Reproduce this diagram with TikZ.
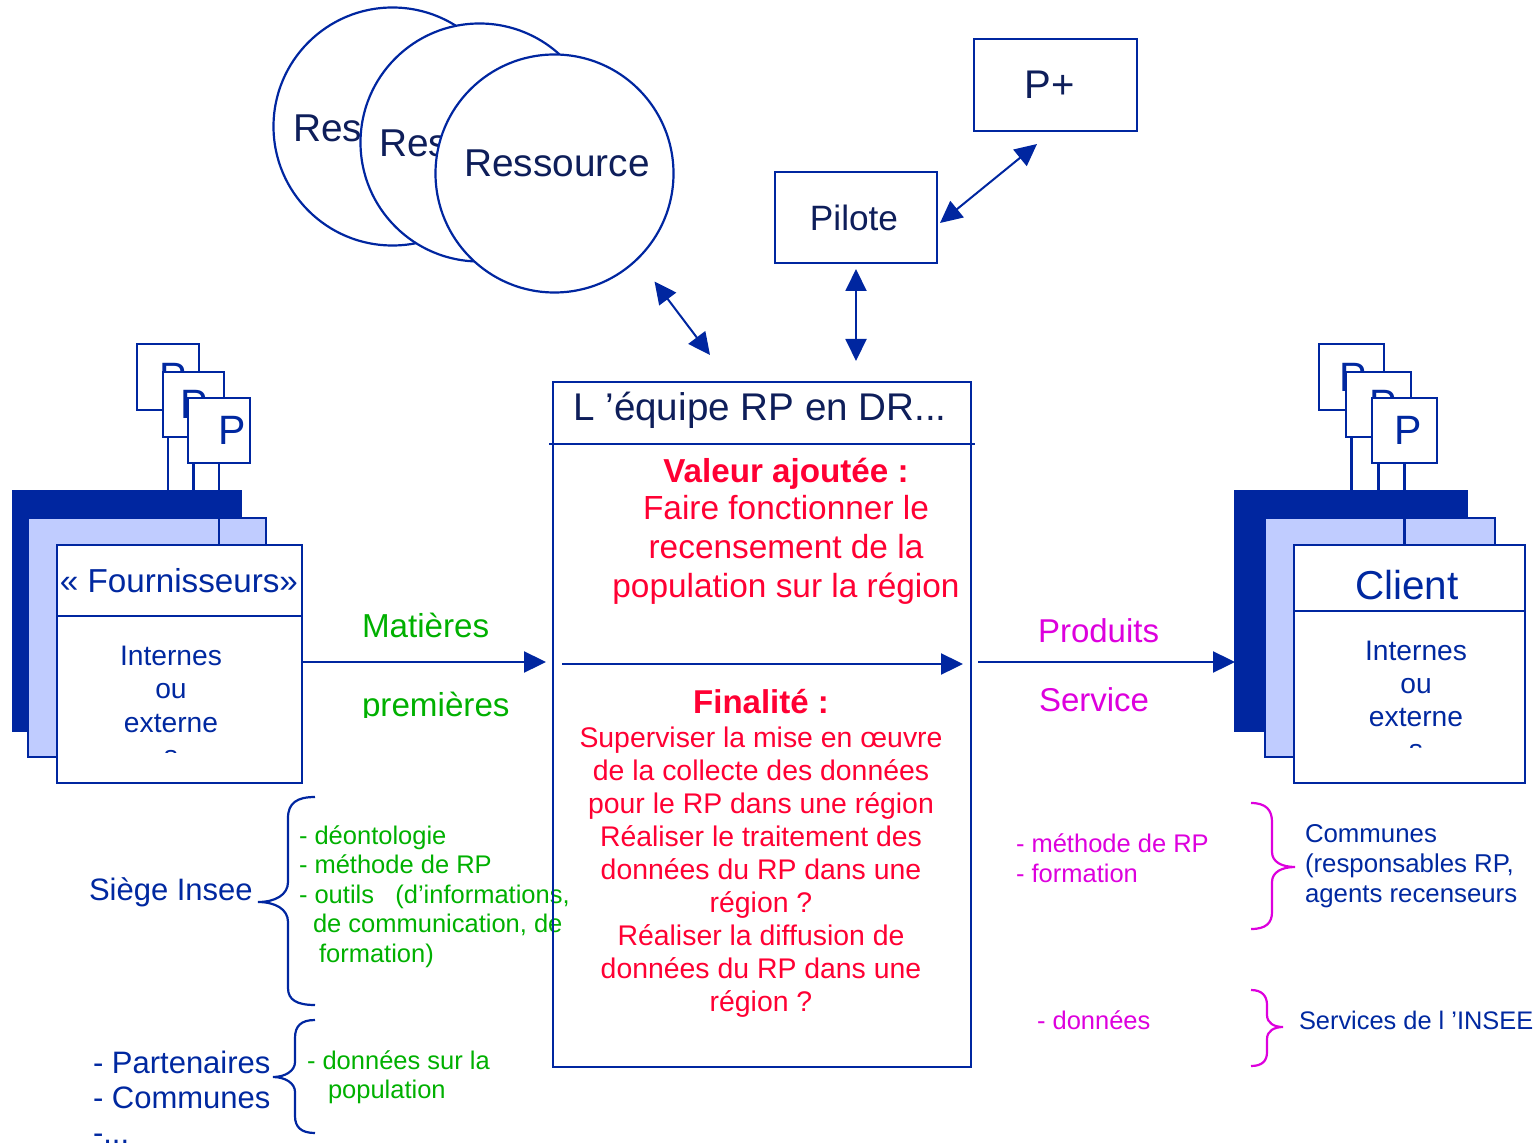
\documentclass[tikz,border=0pt]{standalone}
\usepackage{fontspec}
\setmainfont{Liberation Sans}
\usetikzlibrary{arrows.meta}

\definecolor{lineblue}{RGB}{0,38,160}
\definecolor{lightfill}{RGB}{192,204,255}
\definecolor{navy}{RGB}{14,30,90}
\definecolor{txtblue}{RGB}{0,40,160}
\definecolor{rouge}{RGB}{255,0,51}
\definecolor{vert}{RGB}{0,176,0}
\definecolor{mauve}{RGB}{221,0,221}

\newcommand\fsz[2]{\fontsize{#1}{#2}\selectfont}

\begin{document}
% multi-line labels are placed by the baseline of their last line
\begin{tikzpicture}[x=0.5pt,y=-0.5pt,
  panel/.style={draw=lineblue, line width=1.15pt, inner sep=0pt, outer sep=0pt, anchor=north west, fill=white},
  ress/.style={circle, draw=lineblue, line width=1.1pt, fill=white, minimum size=119pt, inner sep=0pt, outer sep=0pt},
  lbl/.style={inner sep=0pt, outer sep=0pt},
  ptag/.style={draw=lineblue, line width=1.15pt, fill=white, inner sep=0pt, outer sep=0pt, minimum width=31pt, minimum height=33pt},
  pletter/.style={lbl, text=txtblue, font=\fsz{20.5}{24}},
  tip/.tip={Triangle[length=11pt,width=10.5pt]},
  biarrow/.style={draw=lineblue, line width=1pt, tip-tip},
  arr/.style={draw=lineblue, line width=1.15pt, -tip},
  rule/.style={draw=lineblue, line width=1.15pt},
  brace/.style={line width=1.1pt},
]
\useasboundingbox (0,0) rectangle (1540,1144);

% --- stacked resources
\node[ress] (r1) at (392.5,126.5) {};
\node[lbl, anchor=base, text=navy, font=\fsz{19.4}{23}] (r1t) at (386,142) {Ressource};
\node[ress] (r2) at (479.5,142.5) {};
\node[lbl, anchor=base, text=navy, font=\fsz{19.4}{23}] (r2t) at (472,157) {Ressource};
\node[ress] (r3) at (554.5,173.5) {};
\node[lbl, anchor=base, text=navy, font=\fsz{19.4}{23}] (r3t) at (557,177) {Ressource};

% --- steering boxes
\node[panel, minimum width=81pt, minimum height=45.5pt, text=navy, font=\fsz{17.6}{21}] (pilote) at (775,172) {\hspace*{-2pt}Pilote};
\node[panel, minimum width=81.5pt, minimum height=46pt, text=navy, font=\fsz{20}{24}] (pplus) at (974,39) {\hspace*{-6pt}P+};

% --- green inputs (drawn under the central frame)
\node[lbl, anchor=base west, align=left, text=vert, font=\fsz{12.75}{14.75}] (siegelist) at (299,962)
  {- déontologie\\- méthode de RP\\- outils\ \ \ (d’informations,\\\hspace*{7pt}de communication, de\\\hspace*{10pt}formation)};
\node[lbl, anchor=base west, align=left, text=vert, font=\fsz{12.75}{14.5}] (partlist) at (307,1098)
  {- données sur la\\\hspace*{10.5pt}population};

% --- central frame
\node[panel, fill=none, minimum width=209pt, minimum height=342.5pt] (team) at (553,382) {};
\draw[rule] ([shift={(-4,62)}]team.north west) -- ([shift={(4,62)}]team.north east);
\node[lbl, anchor=base, text=navy, font=\fsz{19.3}{22}] (teamtitle) at (760,420) {L ’équipe RP en DR...};
\node[lbl, anchor=base, text=rouge, font=\bfseries\fsz{16.6}{19.5}] (valtitle) at (786,482) {Valeur ajoutée :};
\node[lbl, anchor=base, align=center, text=rouge, font=\fsz{16.7}{19.5}] (valtext) at (786,597)
  {Faire fonctionner le\\recensement de la\\population sur la région};
\node[lbl, anchor=base, text=rouge, font=\bfseries\fsz{16.5}{19.5}] (fintitle) at (761,713) {Finalité :};
\node[lbl, anchor=base, align=center, text=rouge, font=\fsz{14.2}{16.5}] (fintext) at (761,1011)
  {Superviser la mise en œuvre\\de la collecte des données\\pour le RP dans une région\\Réaliser le traitement des\\données du RP dans une\\région ?\\Réaliser la diffusion de\\données du RP dans une\\région ?};

% --- supplier stack
\node[panel, fill=lineblue, minimum width=114pt, minimum height=120pt] (ldark) at (13,491) {};
\node[panel, fill=lightfill, minimum width=119pt, minimum height=119.5pt] (llight) at (28,518) {};
\node[panel, minimum width=122.5pt, minimum height=119pt] (lfront) at (57,545) {};
\draw[rule] ([shift={(0,71)}]lfront.north west) -- ([shift={(0,71)}]lfront.north east);
\node[lbl, anchor=base, text=txtblue, font=\fsz{16.6}{20}] (fourn) at (179,592) {« Fournisseurs»};
\node[lbl, anchor=base, align=center, text=txtblue, font=\fsz{14.1}{16.7}] (lint) at (171,732) {Internes\\ou\\externe};
\begin{scope}
  \clip (60,740) rectangle (300,752);
  \node[lbl, anchor=base, text=txtblue, font=\fsz{14.1}{16.7}] (lints) at (171,765) {s};
\end{scope}
\coordinate (lp1c) at (168,377);
\coordinate (lp2c) at (193.5,404.5);
\coordinate (lp3c) at (219,430.5);
\draw[rule] (lp1c) -- (lp1c |- ldark.north);
\draw[rule] (lp2c) -- (lp2c |- llight.north);
\draw[rule] (lp3c) -- (lp3c |- lfront.north);
\node[ptag] (lp1) at (lp1c) {};
\node[pletter] (lp1t) at ([shift={(5.5,0)}]lp1.center) {P};
\node[ptag, minimum width=30.5pt, minimum height=32.5pt] (lp2) at (lp2c) {};
\node[pletter] (lp2t) at ([shift={(0.5,0)}]lp2.center) {P};
\node[ptag, minimum height=32.5pt] (lp3) at (lp3c) {};
\node[pletter] (lp3t) at ([shift={(13,0)}]lp3.center) {P};

% --- client stack
\node[panel, fill=lineblue, minimum width=116pt, minimum height=120pt] (rdark) at (1235,491) {};
\node[panel, fill=lightfill, minimum width=115pt, minimum height=119.5pt] (rlight) at (1265,518) {};
\node[panel, minimum width=115.5pt, minimum height=119pt] (rfront) at (1294,545) {};
\draw[rule] ([shift={(0,66)}]rfront.north west) -- ([shift={(0,66)}]rfront.north east);
\node[lbl, anchor=base, text=txtblue, font=\fsz{20.2}{24}] (client) at (1407,599) {Client};
\node[lbl, anchor=base, align=center, text=txtblue, font=\fsz{14.1}{16.5}] (rint) at (1416,726) {Internes\\ou\\externe};
\begin{scope}
  \clip (1300,735) rectangle (1520,747);
  \node[lbl, anchor=base, text=txtblue, font=\fsz{14.1}{16.5}] (rints) at (1416,759) {s};
\end{scope}
\coordinate (rp1c) at (1351.5,377);
\coordinate (rp2c) at (1378.5,404.5);
\coordinate (rp3c) at (1404.5,430.5);
\draw[rule] (rp1c) -- (rp1c |- rdark.north);
\draw[rule] (rp2c) -- (rp2c |- rlight.north);
\draw[rule] (rp3c) -- (rp3c |- rfront.north);
\node[ptag, minimum width=32.5pt] (rp1) at (rp1c) {};
\node[pletter] (rp1t) at ([shift={(1.5,0)}]rp1.center) {P};
\node[ptag, minimum width=32.5pt, minimum height=32.5pt] (rp2) at (rp2c) {};
\node[pletter] (rp2t) at ([shift={(4.5,0)}]rp2.center) {P};
\node[ptag, minimum width=32.5pt, minimum height=32.5pt] (rp3) at (rp3c) {};
\node[pletter] (rp3t) at ([shift={(3.5,0)}]rp3.center) {P};

% --- flows
\draw[arr, shorten >=3.5pt] ([yshift=1pt]lfront.east) -- ([yshift=1pt]lfront.east -| team.west);
\draw[arr, shorten <=4.5pt, shorten >=4pt] (team.west |- lfront.east) -- (team.east |- lfront.east);
\draw[arr, shorten <=3.5pt] ([yshift=1pt]team.east |- lfront.east) -- ([yshift=1pt]rdark.west |- lfront.east);
\draw[biarrow, shorten <=3pt, shorten >=10.5pt] (pilote.south) -- (pilote.south |- team.north);
\draw[biarrow] ([shift={(3,5.5)}]pilote.east) -- ([shift={(-18.5,13)}]pplus.south);
\draw[biarrow] ([shift={(100,108)}]r3.center) -- ([shift={(157,-27)}]team.north west);

% --- flow labels
\begin{scope}
  \clip (305,590) rectangle (550,717);
  \node[lbl, anchor=base west, text=vert, font=\fsz{16.6}{20}] (mat1) at (362,637) {Matières};
  \node[lbl, anchor=base west, text=vert, font=\fsz{16.6}{20}] (mat2) at (362,716) {premières};
\end{scope}
\node[lbl, anchor=base west, text=mauve, font=\fsz{16.5}{20}] (prod) at (1038,642) {Produits};
\node[lbl, anchor=base west, text=mauve, font=\fsz{16.5}{20}] (serv) at (1039,711) {Service};

% --- left: origins of inputs
\node[lbl, anchor=base west, text=txtblue, font=\fsz{15.5}{18}] (siege) at (89,900) {Siège Insee};
\node[lbl, anchor=base west, align=left, text=txtblue, font=\fsz{15.5}{17.5}] (partners) at (93,1143)
  {- Partenaires\\- Communes\\-...};
\draw[brace, lineblue] (315,797) .. controls (297,797) and (288,803) .. (288,818) -- (288,882)
  .. controls (288,895) and (275,902) .. (258,902) .. controls (275,902) and (288,909) .. (288,922)
  -- (288,988) .. controls (288,1000) and (297,1005) .. (315,1005);
\draw[brace, lineblue] (315,1020) .. controls (301,1020) and (295,1026) .. (295,1038) -- (295,1062)
  .. controls (295,1071) and (285,1077) .. (273,1077) .. controls (285,1077) and (295,1083) .. (295,1092)
  -- (295,1116) .. controls (295,1127) and (301,1133) .. (315,1133);

% --- right: destinations of outputs
\node[lbl, anchor=base west, align=left, text=mauve, font=\fsz{12.75}{15}] (outlist) at (1016,882)
  {- méthode de RP\\- formation};
\node[lbl, anchor=base west, align=left, text=txtblue, font=\fsz{12.9}{14.8}] (communes) at (1305,902)
  {Communes\\(responsables RP,\\agents recenseurs};
\node[lbl, anchor=base west, text=mauve, font=\fsz{12.75}{15}] (donnees) at (1037,1029) {- données};
\node[lbl, anchor=base west, text=txtblue, font=\fsz{12.7}{15}] (services) at (1299,1029) {Services de l ’INSEE};
\draw[brace, mauve] (1251,803) .. controls (1266,803) and (1272,810) .. (1272,822) -- (1272,852)
  .. controls (1272,862) and (1282,867) .. (1295,867) .. controls (1282,867) and (1272,872) .. (1272,882)
  -- (1272,912) .. controls (1272,923) and (1266,929) .. (1251,929);
\draw[brace, mauve] (1251,990) .. controls (1262,990) and (1267,996) .. (1267,1005) -- (1267,1015)
  .. controls (1267,1023) and (1274,1027) .. (1283,1027) .. controls (1274,1027) and (1267,1031) .. (1267,1039)
  -- (1267,1052) .. controls (1267,1061) and (1262,1066) .. (1251,1066);
\end{tikzpicture}
\end{document}
